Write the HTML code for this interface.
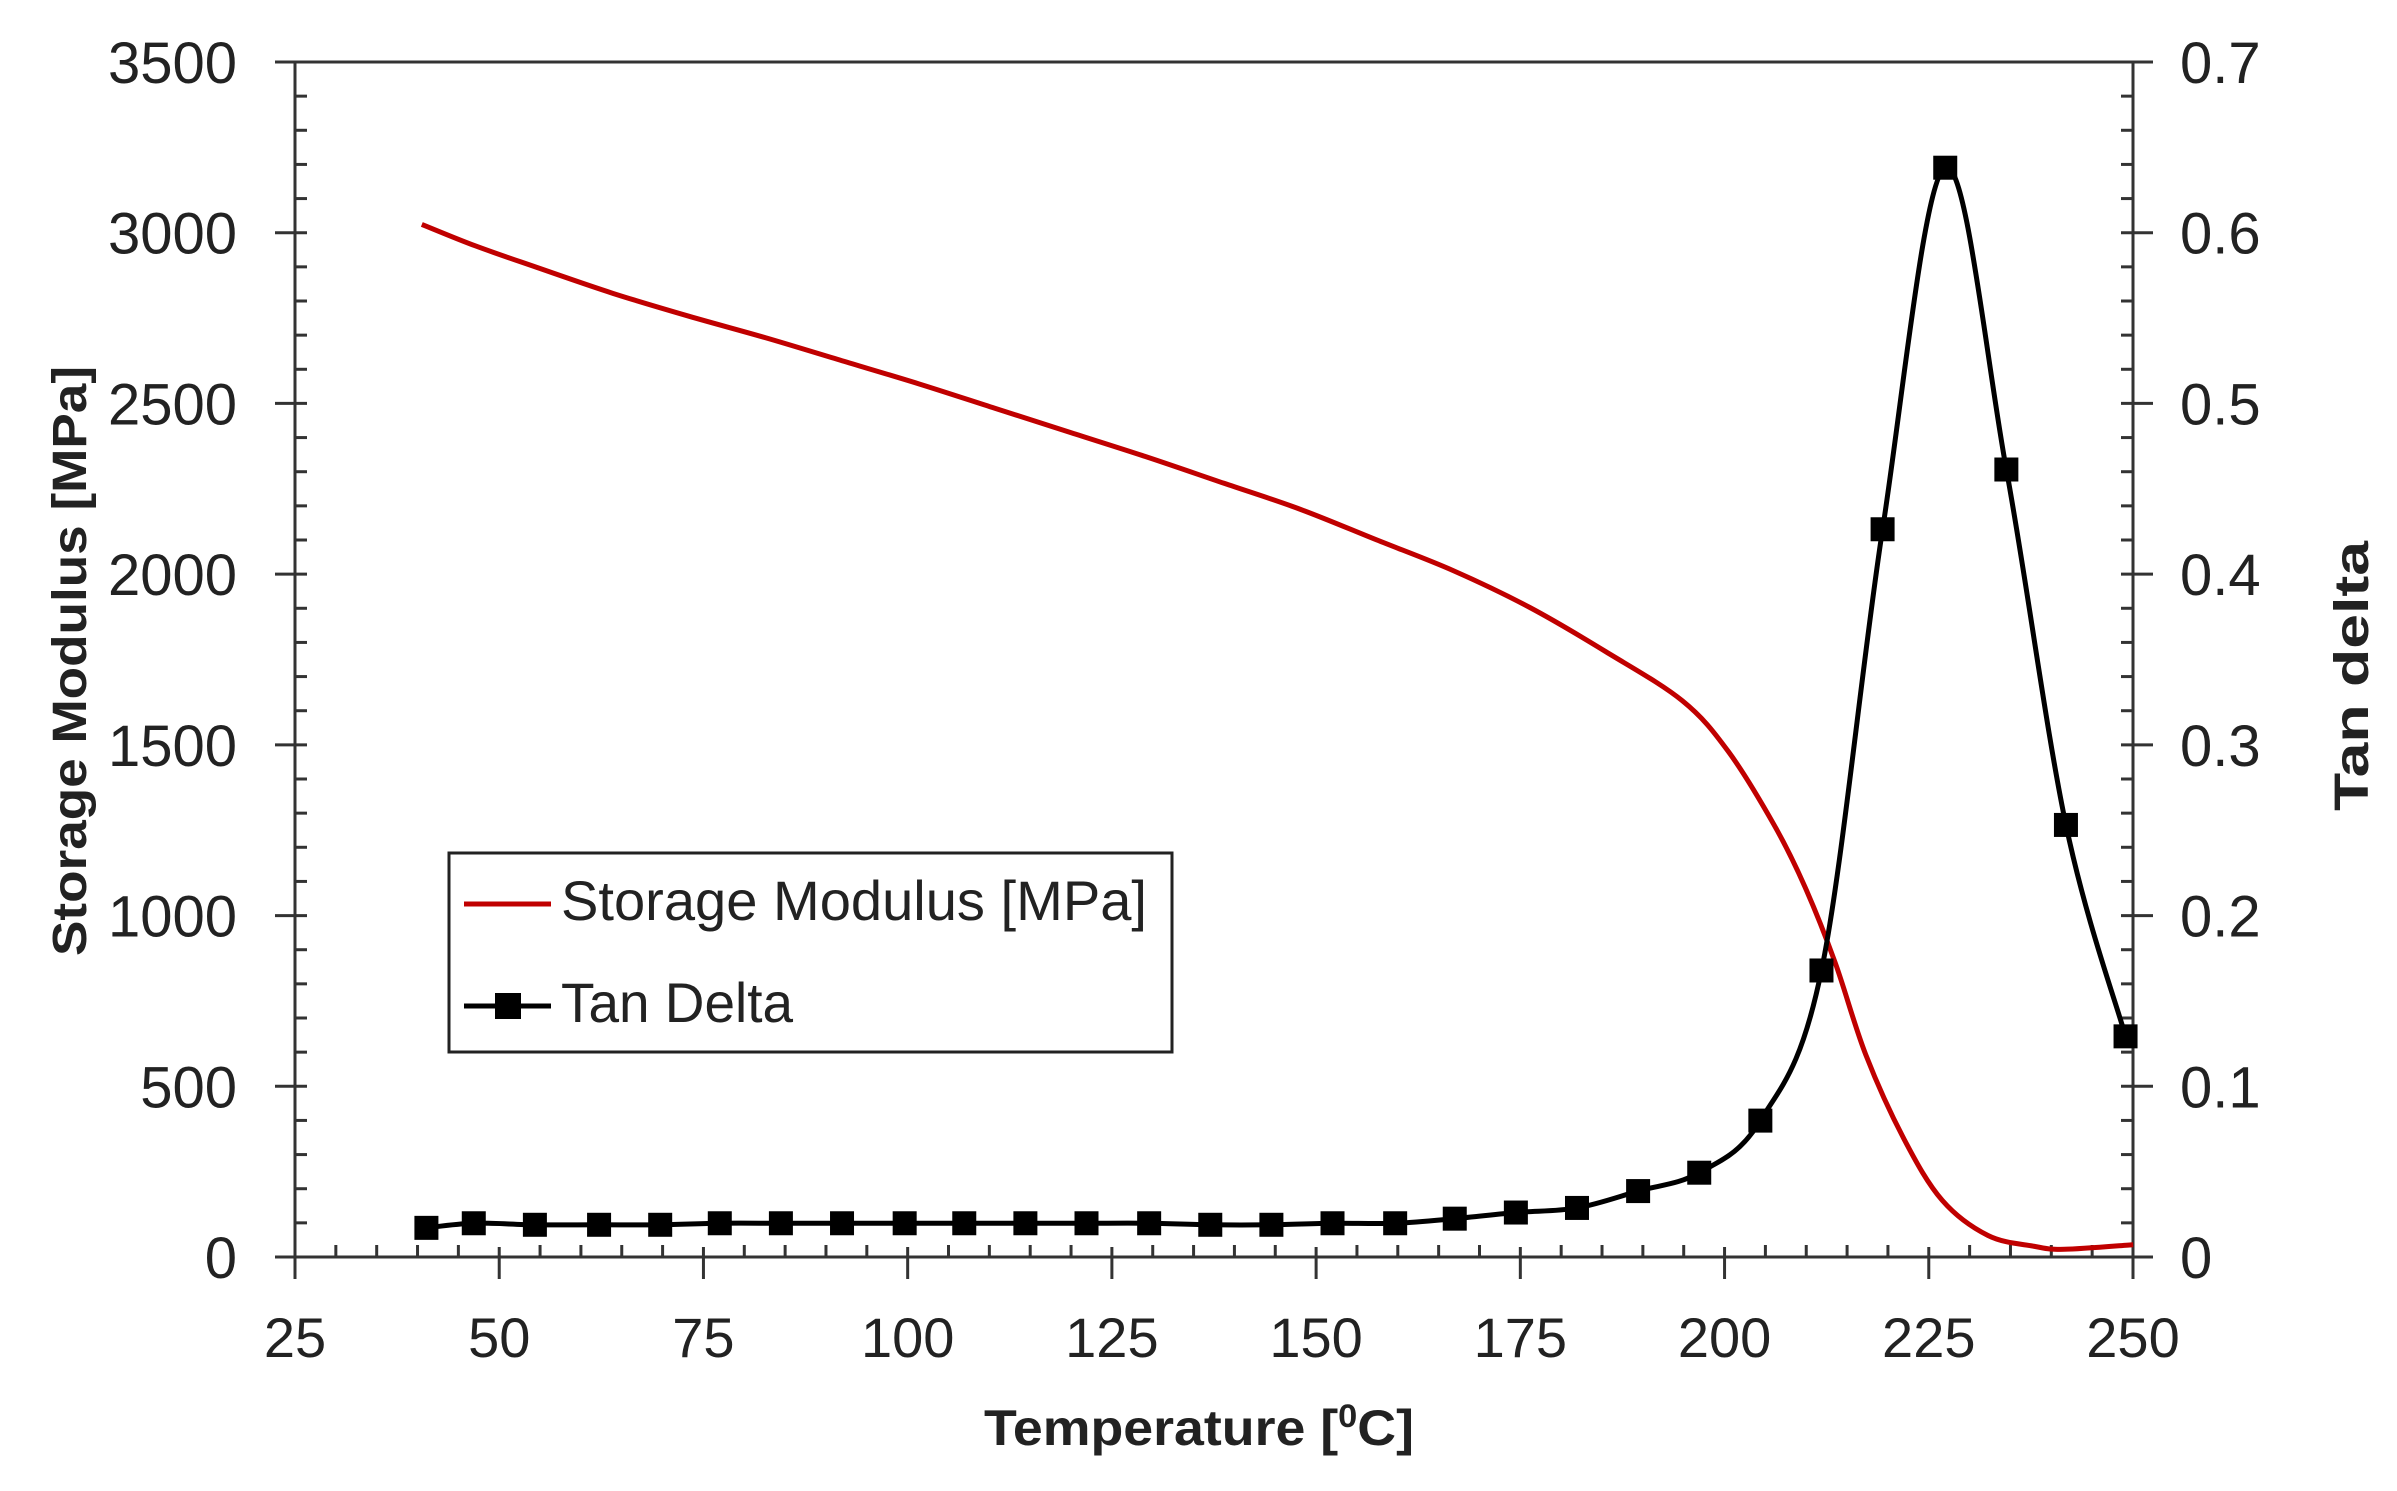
<!DOCTYPE html>
<html><head><meta charset="utf-8"><style>html,body{margin:0;padding:0;background:#fff}svg{display:block}</style></head>
<body>
<svg id="s" width="2397" height="1491" xmlns="http://www.w3.org/2000/svg" font-family="'Liberation Sans', sans-serif" fill="#222">
<g id="g"></g>
<text x="1199" y="1445" text-anchor="middle" font-size="50" font-weight="bold" textLength="430" lengthAdjust="spacingAndGlyphs">Temperature [<tspan font-size="32" dy="-18">0</tspan><tspan dy="18">C]</tspan></text>
<text transform="translate(86,661) rotate(-90)" text-anchor="middle" font-size="48" font-weight="bold" textLength="590" lengthAdjust="spacingAndGlyphs">Storage Modulus [MPa]</text>
<text transform="translate(2368,676) rotate(-90)" text-anchor="middle" font-size="48" font-weight="bold" textLength="270" lengthAdjust="spacingAndGlyphs">Tan delta</text>
<rect x="449" y="853" width="723" height="199" fill="#fff" stroke="#222" stroke-width="3"/>
<line x1="464" y1="904" x2="551" y2="904" stroke="#c00000" stroke-width="5"/>
<text x="561" y="920" font-size="56" textLength="586" lengthAdjust="spacingAndGlyphs">Storage Modulus [MPa]</text>
<line x1="464" y1="1006" x2="551" y2="1006" stroke="#000" stroke-width="5"/>
<rect x="495" y="993" width="26" height="26" fill="#000"/>
<text x="561" y="1022" font-size="56" textLength="232" lengthAdjust="spacingAndGlyphs">Tan Delta</text>
</svg>
<script>
const g=document.getElementById('g');let h='';
const L=295,R=2133,T=62,B=1257;
const X=t=>L+(t-25)*(R-L)/225, Y=v=>B-v*(B-T)/3500, Y2=v=>B-v*(B-T)/0.7;
h+=`<line x1="${L}" y1="${T}" x2="${R}" y2="${T}" stroke="#333" stroke-width="3"/>`;
h+=`<line x1="${L}" y1="${B}" x2="${R}" y2="${B}" stroke="#333" stroke-width="3"/>`;
h+=`<line x1="${L}" y1="${T}" x2="${L}" y2="${B}" stroke="#333" stroke-width="3"/>`;
h+=`<line x1="${R}" y1="${T}" x2="${R}" y2="${B}" stroke="#333" stroke-width="3"/>`;
for(let t=25;t<=250;t+=5){const x=X(t);if(t%25==0){h+=`<line x1="${x}" y1="${B-10}" x2="${x}" y2="${B+22}" stroke="#333" stroke-width="3"/>`;h+=`<text x="${x}" y="${B+100}" text-anchor="middle" font-size="56">${t}</text>`}else h+=`<line x1="${x}" y1="${B-12}" x2="${x}" y2="${B}" stroke="#333" stroke-width="3"/>`}
for(let v=0;v<=3500;v+=100){const y=Y(v);if(v%500==0){h+=`<line x1="${L-20}" y1="${y}" x2="${L+12}" y2="${y}" stroke="#333" stroke-width="3"/>`;h+=`<text x="237" y="${y+21}" text-anchor="end" font-size="58">${v}</text>`}else h+=`<line x1="${L}" y1="${y}" x2="${L+12}" y2="${y}" stroke="#333" stroke-width="3"/>`}
for(let i=0;i<=35;i++){const y=Y2(i*0.02);if(i%5==0){h+=`<line x1="${R-12}" y1="${y}" x2="${R+20}" y2="${y}" stroke="#333" stroke-width="3"/>`;h+=`<text x="2180" y="${y+21}" font-size="58">${i==0?'0':(i*0.02).toFixed(1)}</text>`}else h+=`<line x1="${R-12}" y1="${y}" x2="${R}" y2="${y}" stroke="#333" stroke-width="3"/>`}
const mx=x=>295+(x-192)*1.528, my=y=>62+(y-42)*1.532;
function cr(p){let d=`M${p[0][0]},${p[0][1]}`;for(let i=0;i<p.length-1;i++){const p0=p[i-1]||p[i],p1=p[i],p2=p[i+1],p3=p[i+2]||p2;d+=` C${p1[0]+(p2[0]-p0[0])/6},${p1[1]+(p2[1]-p0[1])/6} ${p2[0]-(p3[0]-p1[0])/6},${p2[1]-(p3[1]-p1[1])/6} ${p2[0]},${p2[1]}`}return d}
const red=[[275,148],[310,162],[350,176],[400,193],[450,208],[500,222],[550,237],[600,252],[650,268],[700,284],[750,300],[800,317],[850,334],[900,354],[950,374],[1000,398],[1050,427],[1100,459],[1130,492],[1160,540],[1180,580],[1200,630],[1220,690],[1245,745],[1270,785],[1300,808],[1330,815],[1350,817],[1395,814]].map(p=>[mx(p[0]),my(p[1])]);
const tan=[[278,803],[309,800],[349,801],[391,801],[431,801],[470,800],[510,800],[550,800],[591,800],[630,800],[670,800],[710,800],[751,800],[791,801],[831,801],[871,800],[912,800],[951,797],[991,793],[1031,790],[1071,779],[1111,767],[1151,733],[1191,635],[1231,347],[1272,111],[1312,308],[1351,540],[1390,678]].map(p=>[mx(p[0]),my(p[1])]);
h+=`<path d="${cr(red)}" fill="none" stroke="#c00000" stroke-width="5"/>`;
h+=`<path d="${cr(tan)}" fill="none" stroke="#000" stroke-width="5"/>`;
tan.forEach(p=>h+=`<rect x="${p[0]-12}" y="${p[1]-12}" width="24" height="24" fill="#000"/>`);
g.innerHTML=h;
</script>
</body></html>
